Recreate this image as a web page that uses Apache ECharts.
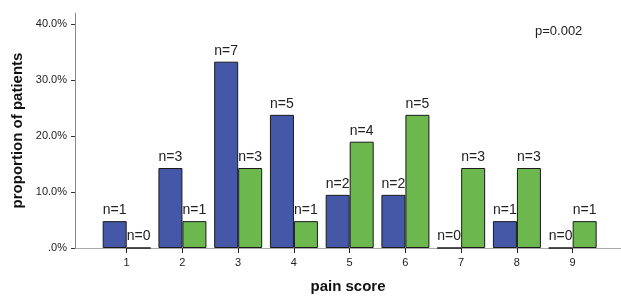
<!DOCTYPE html>
<html>
<head>
<meta charset="utf-8">
<script src="https://cdn.jsdelivr.net/npm/echarts@6/dist/echarts.min.js"></script>
<style>
  html, body { margin: 0; padding: 0; background: #fff; }
  #chart { width: 621px; height: 299px; }
</style>
</head>
<body>
<div id="chart"></div>
<script>
// pain score categories
var scores = [1, 2, 3, 4, 5, 6, 7, 8, 9];
// proportion of patients (%)
var bluePct = [4.8, 14.3, 33.3, 23.8, 9.5, 9.5, 0, 4.8, 0];
var greenPct = [0, 4.8, 14.3, 4.8, 19.0, 23.8, 14.3, 14.3, 4.8];
// n labels over the bars
var blueN = [1, 3, 7, 5, 2, 2, 0, 1, 0];
var greenN = [0, 1, 3, 1, 4, 5, 3, 3, 1];
var yTicks = [0, 10, 20, 30, 40];
var pText = "p=0.002";

var font = "Liberation Sans, Arial, sans-serif";

function pairs(vals) {
    var out = [];
    for (var i = 0; i < scores.length; i++) {
        out.push([scores[i], vals[i]]);
    }
    return out;
}

function barSeries(vals, counts, color) {
    return {
        type: 'bar',
        data: pairs(vals),
        barWidth: 24,
        barGap: '0%',
        itemStyle: { color: color, borderColor: '#1a1a1a', borderWidth: 1 },
        label: {
            show: true,
            position: 'top',
            distance: 4,
            fontFamily: font,
            fontSize: 14,
            color: '#222',
            formatter: function (p) { return 'n=' + counts[p.dataIndex]; }
        }
    };
}

var chart = echarts.init(document.getElementById('chart'));
chart.setOption({
    animation: false,
    grid: { left: 75, right: 0, top: 13, bottom: 50 },
    xAxis: {
        type: 'value',
        min: 0.073,
        max: 9.867,
        name: 'pain score',
        nameLocation: 'middle',
        nameGap: 31,
        nameTextStyle: { fontFamily: font, fontSize: 15, fontWeight: 'bold', color: '#111' },
        axisLine: { show: true, lineStyle: { color: '#aaa', width: 1 } },
        axisTick: { show: true, customValues: scores, length: 5, lineStyle: { color: '#222' } },
        axisLabel: { customValues: scores, margin: 9, fontFamily: font, fontSize: 11, color: '#222' },
        splitLine: { show: false }
    },
    yAxis: {
        type: 'value',
        min: 0,
        max: 42,
        name: 'proportion of patients',
        nameLocation: 'middle',
        nameGap: 50,
        nameTextStyle: { fontFamily: font, fontSize: 15, fontWeight: 'bold', color: '#111' },
        axisLine: { show: true, lineStyle: { color: '#888', width: 1 } },
        axisTick: { show: true, customValues: yTicks, length: 4, lineStyle: { color: '#333' } },
        axisLabel: {
            customValues: yTicks,
            margin: 8,
            fontFamily: font,
            fontSize: 11,
            color: '#222',
            formatter: function (v) { return v === 0 ? '.0%' : v.toFixed(1) + '%'; }
        },
        splitLine: { show: false }
    },
    graphic: [{
        type: 'text',
        left: 535,
        top: 25,
        style: { text: pText, font: '13px ' + font, fill: '#222' }
    }],
    series: [
        barSeries(bluePct, blueN, '#4558a8'),
        barSeries(greenPct, greenN, '#6cb84f')
    ]
});
</script>
</body>
</html>
